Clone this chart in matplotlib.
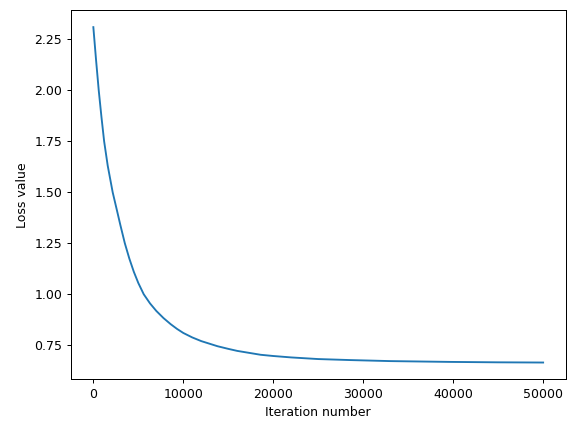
import matplotlib
matplotlib.use("Agg")
import matplotlib.pyplot as plt

iterations = [0, 300, 600, 900, 1200, 1600, 2150, 2630, 3000, 3500, 4000, 4500,
              5000, 5600, 6300, 7000, 7800, 8600, 9300, 10000, 11000, 12000,
              13800, 15000, 16000, 18600, 20000, 22000, 25000, 28600, 33000,
              39700, 45000, 50000]
loss = [2.31, 2.15, 2.00, 1.87, 1.75, 1.63, 1.50, 1.41, 1.34, 1.25, 1.175, 1.11,
        1.055, 1.00, 0.955, 0.918, 0.883, 0.853, 0.83, 0.81, 0.788, 0.77,
        0.745, 0.732, 0.722, 0.703, 0.697, 0.690, 0.682, 0.677, 0.672,
        0.668, 0.666, 0.665]

fig, ax = plt.subplots(figsize=(6.4, 4.8), dpi=90)
fig.subplots_adjust(left=0.123, right=0.982, top=0.976, bottom=0.122)
ax.plot(iterations, loss)
ax.set_xlabel("Iteration number")
ax.set_ylabel("Loss value")
fig.savefig("out.png", dpi=90)
